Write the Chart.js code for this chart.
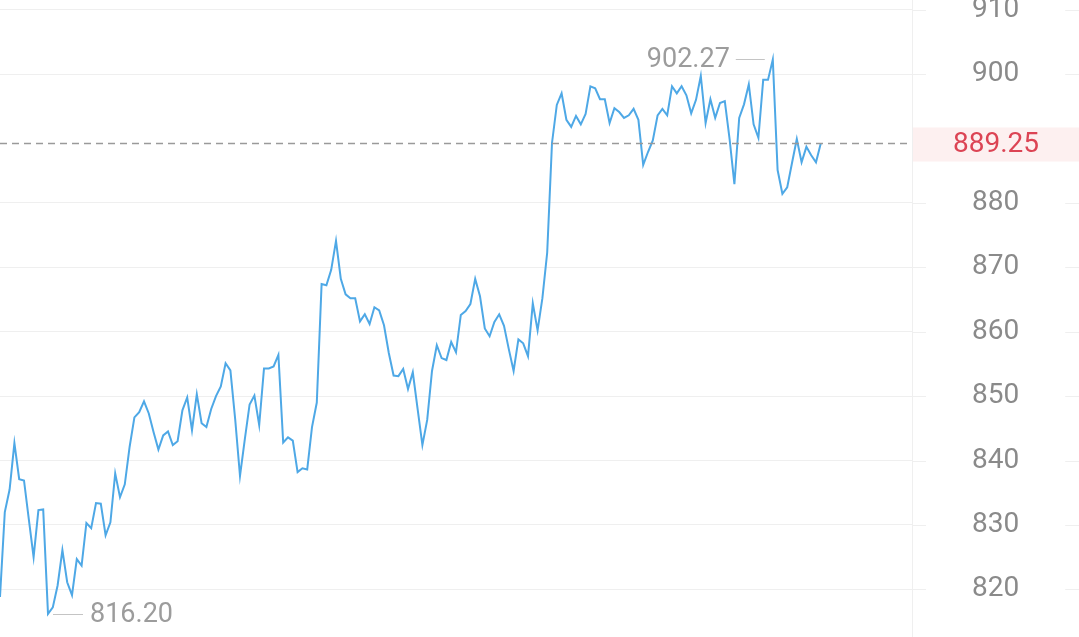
<!DOCTYPE html>
<html>
<head>
<meta charset="utf-8">
<script src="https://cdn.jsdelivr.net/npm/chart.js@4.4.1/dist/chart.umd.min.js"></script>
<style>
  html, body { margin: 0; padding: 0; background: #fff; }
  #wrap { width: 1079px; height: 637px; }
</style>
</head>
<body>
<div id="wrap"><canvas id="myChart" width="1079" height="637"></canvas></div>
<script>
// price series (one point per slot, the session is not finished yet)
const prices = [
  818.8, 832.0, 835.5, 842.7, 837.1, 836.9, 830.9, 825.0, 832.3, 832.4,
  816.2, 817.2, 820.6, 826.1, 821.1, 819.1, 824.7, 823.7, 830.3, 829.5,
  833.4, 833.3, 828.4, 830.4, 838.0, 834.3, 836.3, 842.1, 846.7, 847.5,
  849.2, 847.3, 844.4, 841.7, 843.9, 844.5, 842.4, 843.0, 847.8, 849.8,
  844.7, 850.3, 845.8, 845.2, 848.0, 850.0, 851.5, 855.1, 854.0, 846.4,
  837.6, 843.3, 848.7, 850.1, 845.5, 854.3, 854.3, 854.6, 856.4, 842.8,
  843.6, 843.1, 838.2, 838.8, 838.6, 845.2, 849.0, 867.4, 867.2, 869.6,
  874.1, 868.2, 865.8, 865.2, 865.2, 861.6, 862.7, 861.2, 863.8, 863.3,
  861.0, 856.7, 853.2, 853.1, 854.2, 851.1, 853.7, 848.0, 842.4, 846.3,
  853.9, 857.9, 855.9, 855.6, 858.4, 856.8, 862.6, 863.2, 864.3, 868.2,
  865.5, 860.5, 859.3, 861.5, 862.7, 860.9, 857.3, 853.9, 858.8, 858.2,
  856.2, 864.4, 860.2, 865.2, 872.3, 889.3, 895.2, 897.0, 892.9, 891.8,
  893.5, 892.2, 893.8, 898.1, 897.8, 896.1, 896.1, 892.4, 894.7, 894.1,
  893.2, 893.6, 894.6, 892.9, 885.9, 887.9, 889.7, 893.6, 894.6, 893.6,
  898.1, 897.0, 898.1, 896.7, 893.9, 896.0, 899.7, 892.4, 896.1, 893.2,
  895.5, 895.8, 889.9, 882.9, 893.2, 895.3, 898.4, 892.2, 890.1, 899.1,
  899.1, 902.27, 885.1, 881.4, 882.4, 886.2, 889.9, 886.3, 888.7, 887.4,
  886.3, 889.25
];
const slotCount = 191;
const slots = Array.from({length: slotCount}, (_, i) => String(i));
const tickValues = [820, 830, 840, 850, 860, 870, 880, 900, 910];
const lastPrice = 889.25;
const yMin = 812.6;
const yMax = 911.5;

const font = 'Roboto, "Noto Sans", sans-serif';

/* extra drawing: grid through the axis column, last price, high / low */
const extras = {
  id: 'extras',
  beforeDraw(chart) {
    const ctx = chart.ctx;
    const area = chart.chartArea;
    const y = chart.scales.y;
    ctx.save();
    ctx.strokeStyle = '#efefef';
    ctx.lineWidth = 1;
    y.ticks.forEach(function(t) {
      const py = Math.round(y.getPixelForValue(t.value)) + 0.5;
      ctx.beginPath();
      ctx.moveTo(area.right, py);
      ctx.lineTo(chart.width, py);
      ctx.stroke();
    });
    ctx.restore();
  },
  afterDatasetsDraw(chart) {
    const ctx = chart.ctx;
    const area = chart.chartArea;
    const x = chart.scales.x;
    const y = chart.scales.y;
    ctx.save();

    // dashed last price line
    const py = Math.round(y.getPixelForValue(lastPrice)) + 0.5;
    ctx.strokeStyle = '#9a9a9a';
    ctx.lineWidth = 1.3;
    ctx.setLineDash([7, 5]);
    ctx.beginPath();
    ctx.moveTo(area.left, py);
    ctx.lineTo(area.right - 2, py);
    ctx.stroke();
    ctx.setLineDash([]);

    // price tag on the axis
    ctx.fillStyle = '#fdf0f0';
    ctx.fillRect(area.right + 1, py - 16, chart.width - area.right - 1, 34);
    ctx.fillStyle = '#dc4454';
    ctx.font = '28px ' + font;
    ctx.textAlign = 'center';
    ctx.textBaseline = 'middle';
    ctx.fillText(lastPrice.toFixed(2), 996, py + 1);

    // high and low marks
    let hi = 0, lo = 0;
    prices.forEach(function(v, i) {
      if (v > prices[hi]) hi = i;
      if (v < prices[lo]) lo = i;
    });
    ctx.strokeStyle = '#c4c4c4';
    ctx.lineWidth = 1;
    ctx.fillStyle = '#9c9c9c';
    ctx.font = '27px ' + font;

    const hx = x.getPixelForValue(hi);
    const hy = Math.round(y.getPixelForValue(prices[hi])) + 0.5;
    ctx.beginPath();
    ctx.moveTo(hx - 37, hy);
    ctx.lineTo(hx - 8, hy);
    ctx.stroke();
    ctx.textAlign = 'right';
    ctx.fillText(prices[hi].toFixed(2), hx - 43, hy + 1);

    const lx = x.getPixelForValue(lo);
    const ly = Math.round(y.getPixelForValue(prices[lo])) + 0.5;
    ctx.beginPath();
    ctx.moveTo(lx + 5, ly);
    ctx.lineTo(lx + 35, ly);
    ctx.stroke();
    ctx.textAlign = 'left';
    ctx.fillText(prices[lo].toFixed(2), lx + 42, ly + 1);

    ctx.restore();
  }
};

const ctx = document.getElementById('myChart');

new Chart(ctx, {
  type: 'line',
  data: {
    labels: slots,
    datasets: [{
      data: prices,
      borderColor: '#4ea8e6',
      borderWidth: 2,
      pointRadius: 0,
      tension: 0,
      fill: false
    }]
  },
  options: {
    responsive: false,
    animation: false,
    devicePixelRatio: 1,
    layout: { padding: 0, autoPadding: false },
    plugins: {
      legend: { display: false },
      tooltip: { enabled: false }
    },
    scales: {
      x: {
        display: false,
        offset: false
      },
      y: {
        position: 'right',
        min: yMin,
        max: yMax,
        afterBuildTicks: function(axis) {
          axis.ticks = tickValues.map(v => ({value: v}));
        },
        afterFit: function(axis) {
          axis.width = 167;
          axis.paddingTop = 0;
          axis.paddingBottom = 0;
        },
        grid: { color: '#efefef', drawTicks: false },
        border: { color: '#efefef' },
        ticks: {
          autoSkip: false,
          padding: 60,
          crossAlign: 'center',
          color: '#8a8a8a',
          font: { family: font, size: 28 },
          showLabelBackdrop: true,
          backdropColor: '#ffffff',
          backdropPadding: { left: 46, right: 46, top: 4, bottom: 4 }
        }
      }
    }
  },
  plugins: [extras]
});
</script>
</body>
</html>
